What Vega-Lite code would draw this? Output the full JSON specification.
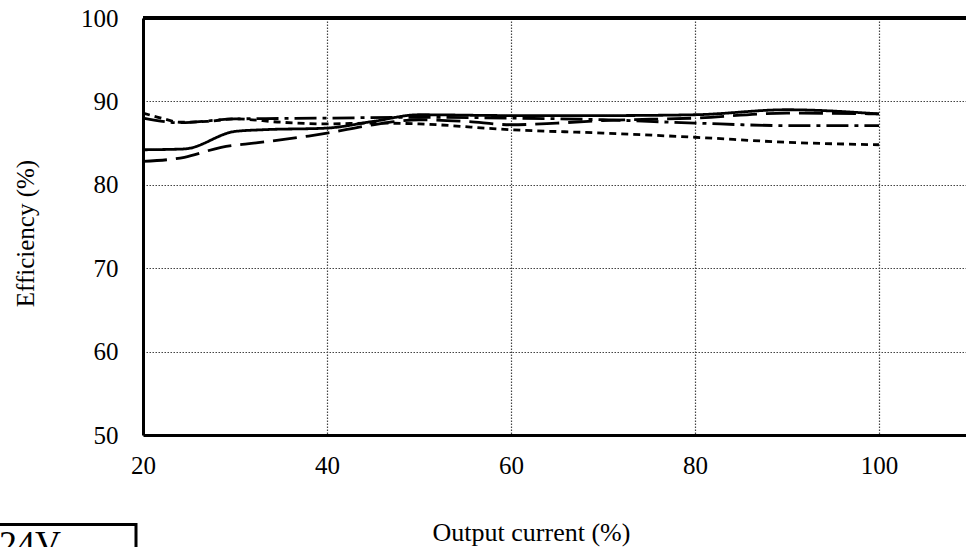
{
  "$schema": "https://vega.github.io/schema/vega-lite/v6.json",
  "autosize": {"type": "none"},
  "padding": {"left": 143, "top": 18, "right": 0, "bottom": 112},
  "width": 823,
  "height": 417,
  "background": "white",
  "config": {
    "font": "Liberation Serif",
    "view": {"stroke": null},
    "legend": {"strokeColor": "black", "strokeWidth": 3}
  },
  "data": {
    "values": [
      {"Load": 20, "Eff": 88.6, "Vin": "AC85V"},
      {"Load": 22, "Eff": 88.0, "Vin": "AC85V"},
      {"Load": 24, "Eff": 87.5, "Vin": "AC85V"},
      {"Load": 27, "Eff": 87.6, "Vin": "AC85V"},
      {"Load": 30, "Eff": 87.9, "Vin": "AC85V"},
      {"Load": 35, "Eff": 87.5, "Vin": "AC85V"},
      {"Load": 40, "Eff": 87.3, "Vin": "AC85V"},
      {"Load": 45, "Eff": 87.4, "Vin": "AC85V"},
      {"Load": 50, "Eff": 87.3, "Vin": "AC85V"},
      {"Load": 60, "Eff": 86.6, "Vin": "AC85V"},
      {"Load": 70, "Eff": 86.2, "Vin": "AC85V"},
      {"Load": 80, "Eff": 85.7, "Vin": "AC85V"},
      {"Load": 90, "Eff": 85.1, "Vin": "AC85V"},
      {"Load": 100, "Eff": 84.8, "Vin": "AC85V"},

      {"Load": 20, "Eff": 88.0, "Vin": "AC100V"},
      {"Load": 24, "Eff": 87.45, "Vin": "AC100V"},
      {"Load": 30, "Eff": 87.9, "Vin": "AC100V"},
      {"Load": 35, "Eff": 87.95, "Vin": "AC100V"},
      {"Load": 40, "Eff": 88.0, "Vin": "AC100V"},
      {"Load": 50, "Eff": 88.1, "Vin": "AC100V"},
      {"Load": 60, "Eff": 88.0, "Vin": "AC100V"},
      {"Load": 70, "Eff": 87.8, "Vin": "AC100V"},
      {"Load": 80, "Eff": 87.4, "Vin": "AC100V"},
      {"Load": 90, "Eff": 87.1, "Vin": "AC100V"},
      {"Load": 100, "Eff": 87.1, "Vin": "AC100V"},

      {"Load": 20, "Eff": 84.2, "Vin": "AC200V"},
      {"Load": 24.5, "Eff": 84.3, "Vin": "AC200V"},
      {"Load": 30, "Eff": 86.4, "Vin": "AC200V"},
      {"Load": 33, "Eff": 86.6, "Vin": "AC200V"},
      {"Load": 40, "Eff": 86.8, "Vin": "AC200V"},
      {"Load": 45, "Eff": 87.6, "Vin": "AC200V"},
      {"Load": 50, "Eff": 88.4, "Vin": "AC200V"},
      {"Load": 60, "Eff": 88.3, "Vin": "AC200V"},
      {"Load": 70, "Eff": 88.3, "Vin": "AC200V"},
      {"Load": 80, "Eff": 88.4, "Vin": "AC200V"},
      {"Load": 90, "Eff": 89.0, "Vin": "AC200V"},
      {"Load": 100, "Eff": 88.5, "Vin": "AC200V"},

      {"Load": 20, "Eff": 82.8, "Vin": "AC265V"},
      {"Load": 24.5, "Eff": 83.3, "Vin": "AC265V"},
      {"Load": 28.5, "Eff": 84.5, "Vin": "AC265V"},
      {"Load": 32.5, "Eff": 85.05, "Vin": "AC265V"},
      {"Load": 38, "Eff": 85.85, "Vin": "AC265V"},
      {"Load": 40, "Eff": 86.2, "Vin": "AC265V"},
      {"Load": 45, "Eff": 87.2, "Vin": "AC265V"},
      {"Load": 50, "Eff": 87.8, "Vin": "AC265V"},
      {"Load": 55, "Eff": 87.6, "Vin": "AC265V"},
      {"Load": 60, "Eff": 87.2, "Vin": "AC265V"},
      {"Load": 65, "Eff": 87.4, "Vin": "AC265V"},
      {"Load": 70, "Eff": 87.7, "Vin": "AC265V"},
      {"Load": 80, "Eff": 88.0, "Vin": "AC265V"},
      {"Load": 90, "Eff": 88.6, "Vin": "AC265V"},
      {"Load": 100, "Eff": 88.5, "Vin": "AC265V"}
    ]
  },
  "layer": [
    {
      "mark": {"type": "line", "interpolate": "monotone", "color": "black", "strokeWidth": 2.8},
      "encoding": {
        "x": {
          "field": "Load", "type": "quantitative",
          "scale": {"domain": [20, 109.46], "nice": false, "zero": false},
          "axis": {
            "values": [20, 40, 60, 80, 100],
            "title": "Output current (%)",
            "titleFontSize": 26, "titleFontWeight": "normal", "titleColor": "black",
            "titleX": 388, "titleY": 105, "titleBaseline": "alphabetic", "titleAlign": "center",
            "labelFontSize": 25, "labelColor": "black", "labelPadding": 18, "labelFlush": false,
            "ticks": false,
            "domain": true, "domainColor": "black", "domainWidth": 3,
            "grid": true, "gridColor": "#444", "gridDash": [1.5, 1.5], "gridWidth": 1.2
          }
        },
        "y": {
          "field": "Eff", "type": "quantitative",
          "scale": {"domain": [50, 100], "nice": false, "zero": false},
          "axis": {
            "values": [50, 60, 70, 80, 90, 100],
            "title": "Efficiency (%)",
            "titleFontSize": 25, "titleFontWeight": "normal", "titleColor": "black",
            "titleX": -110, "titleY": 215, "titleAngle": -90, "titleBaseline": "alphabetic", "titleAlign": "center",
            "labelFontSize": 25, "labelColor": "black", "labelPadding": 25, "labelFlush": false,
            "ticks": false,
            "domain": true, "domainColor": "black", "domainWidth": 3,
            "grid": true, "gridColor": "#444", "gridDash": [1.5, 1.5], "gridWidth": 1.2
          }
        },
        "strokeDash": {
          "field": "Vin", "type": "nominal",
          "scale": {
            "domain": ["AC85V", "AC100V", "AC200V", "AC265V"],
            "range": [[7, 5], [22, 6, 4, 6], [1, 0], [24, 9]]
          },
          "legend": {
            "title": "24V",
            "orient": "none",
            "legendX": -147,
            "legendY": 506.5,
            "padding": 3,
            "titleFontSize": 36, "titleFontWeight": "normal", "titleColor": "black",
            "labelFontSize": 24, "labelColor": "black", "labelOffset": 4,
            "symbolType": "stroke", "symbolSize": 1600, "symbolStrokeWidth": 3, "symbolStrokeColor": "black"
          }
        }
      }
    },
    {
      "mark": {"type": "rule", "color": "black", "strokeWidth": 3},
      "encoding": {"y": {"datum": 100}}
    }
  ]
}
